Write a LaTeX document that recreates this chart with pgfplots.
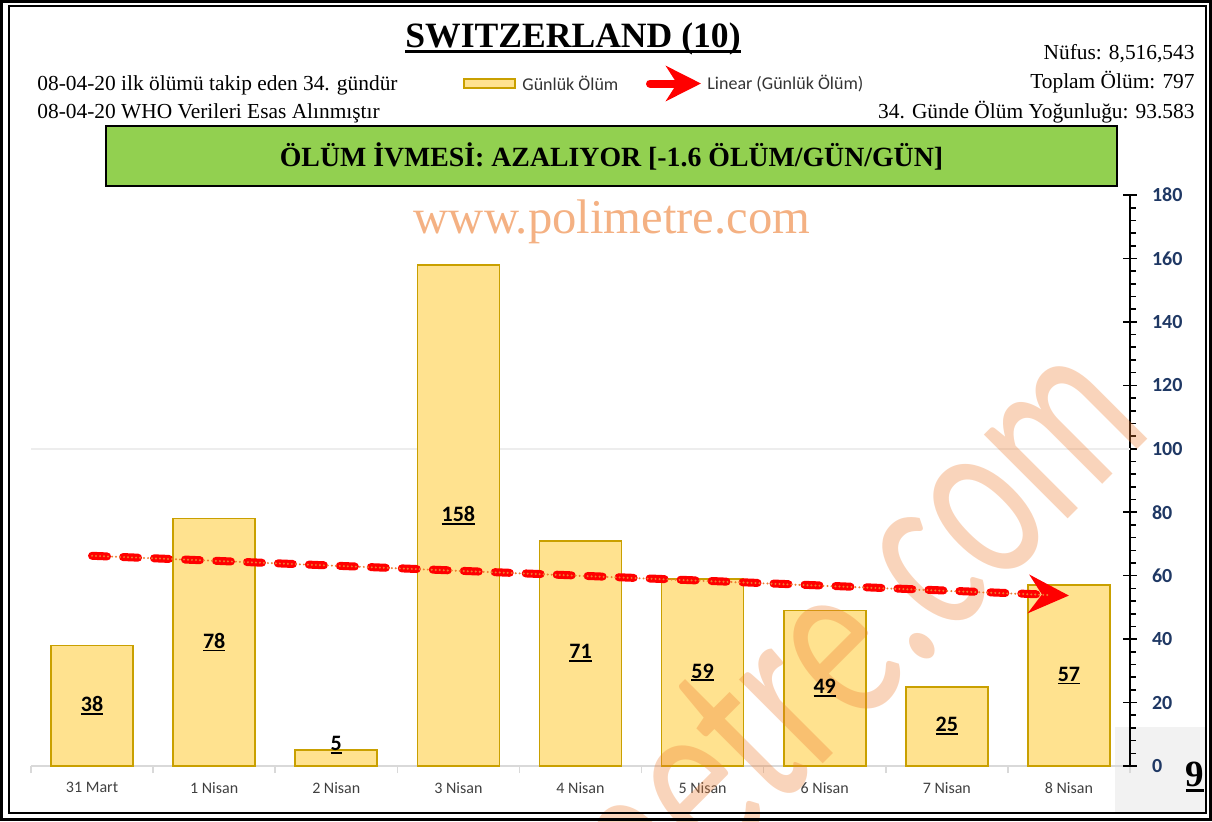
\documentclass[border=0pt]{standalone}
\usepackage{pgfplots}
\pgfplotsset{compat=1.18}
\usepackage{fontspec}
\setmainfont{Liberation Serif}
\newfontfamily\calib{Carlito}
\usetikzlibrary{arrows.meta}
\definecolor{barfill}{HTML}{FFE28F}
\definecolor{baredge}{HTML}{C9A000}
\definecolor{navy}{HTML}{1F3864}
\definecolor{wm}{HTML}{ED7D31}
\definecolor{wmtext}{HTML}{F4B183}
\definecolor{boxgreen}{HTML}{92D050}
\definecolor{lgray}{HTML}{F2F2F2}
\newcommand{\ulx}[3]{\setbox0\hbox{#3}\hbox{\rlap{\copy0}\rule[-#1]{\wd0}{#2}}}

\begin{document}
\begin{tikzpicture}
\path[use as bounding box] (0,0) rectangle (606pt,-410.5pt);
\clip (0,0) rectangle (606pt,-410.5pt);
\begin{scope}[x=0.5pt,y=-0.5pt]
\fill[lgray] (1115,727) rectangle (1206,813);
\end{scope}
\begin{axis}[
  at={(15.5pt,-383pt)}, anchor=south west,
  scale only axis, width=549.5pt, height=285.5pt,
  xmin=-0.5, xmax=8.5, ymin=0, ymax=180,
  clip=false,
  axis x line*=bottom, axis y line*=right,
  x axis line style={draw=black!15, line width=0.75pt, -},
  y axis line style={draw=black, line width=1pt, -},
  xtick={-0.5,0.5,...,8.5},
  x tick label as interval,
  xticklabels={31 Mart,1 Nisan,2 Nisan,3 Nisan,4 Nisan,5 Nisan,6 Nisan,7 Nisan,8 Nisan},
  xticklabel style={font=\calib\fontsize{8}{9.6}\selectfont, text=black!75, yshift=-1pt},
  ytick={0,20,...,180},
  minor y tick num=4,
  tick align=outside,
  major tick length=3.5pt, minor tick length=3pt,
  tick style={black, line width=0.8pt},
  xtick style={draw=black!15, line width=0.75pt},
  ytick style={draw=black, line width=0.8pt},
  extra y ticks={0,20,...,180},
  extra y tick labels={},
  extra y tick style={tick align=inside},
  yticklabel style={font=\calib\bfseries\fontsize{10}{12}\selectfont, text=navy, xshift=4pt},
  /pgf/number format/assume math mode=true,
]
\draw[black!7, line width=0.75pt] (axis cs:-0.5,100) -- (axis cs:8.5,100);
\addplot[ybar, bar width=41pt, fill=barfill, draw=baredge, line width=0.8pt]
  coordinates {(0,38) (1,78) (2,5) (3,158) (4,71) (5,59) (6,49) (7,25) (8,57)};
\node[rotate=45, anchor=base east, text=wm, opacity=0.33, inner sep=0pt,
      font=\calib\fontsize{85}{90}\selectfont] at (axis cs:8.712,105.6)
      {\scalebox{1}[1.46]{polimetre.com}};
\addplot[draw=none, mark=none,
  nodes near coords={\ulx{1.6pt}{0.9pt}{\pgfplotspointmeta}},
  point meta=explicit symbolic,
  nodes near coords style={anchor=center, font=\calib\bfseries\fontsize{11}{13}\selectfont, text=black}]
  coordinates {(0,19)[38] (1,39)[78] (2,6.6)[5] (3,79)[158] (4,35.5)[71] (5,29.5)[59] (6,24.5)[49] (7,12.5)[25] (8,28.5)[57]};
\addplot[draw=red, line width=4pt, line cap=round, dash pattern=on 7.5pt off 8pt,
  -{Stealth[length=20pt,width=19pt,inset=6.5pt]}]
  coordinates {(0,66.27) (8,53.73)};
\addplot[draw=wm, line width=1.1pt, line cap=round, dash pattern=on 0pt off 2pt]
  coordinates {(0,66.27) (7.85,53.85)};
\end{axis}
\begin{scope}[x=0.5pt,y=-0.5pt]
\draw[black, line width=1.5pt] (1.5,1.5) rectangle (1210.5,819.5);
\draw[black, line width=1pt] (9,6) rectangle (1206,813);
\node[anchor=base, text=wmtext, inner sep=0pt, font=\fontsize{24.3}{28}\selectfont] at (612,233) {www.polimetre.com};
\node[anchor=base, inner sep=0pt, font=\bfseries\fontsize{17.8}{20}\selectfont] at (573,47) {\ulx{3.1pt}{1.4pt}{SWITZERLAND (10)}};
\node[anchor=base west, inner sep=0pt, font=\fontsize{10.7}{12}\selectfont] at (37,90) {08-04-20 ilk ölümü takip eden 34. gündür};
\node[anchor=base west, inner sep=0pt, font=\fontsize{10.7}{12}\selectfont] at (37,118) {08-04-20 WHO Verileri Esas Alınmıştır};
\node[anchor=base east, inner sep=0pt, font=\fontsize{10.7}{12}\selectfont] at (1195,59) {Nüfus: 8,516,543};
\node[anchor=base east, inner sep=0pt, font=\fontsize{10.7}{12}\selectfont] at (1195,88) {Toplam Ölüm: 797};
\node[anchor=base east, inner sep=0pt, font=\fontsize{10.7}{12}\selectfont] at (1195,118) {34. Günde Ölüm Yoğunluğu: 93.583};
\draw[fill=boxgreen, line width=1pt] (106,126) rectangle (1117,186);
\node[anchor=base, inner sep=0pt, font=\bfseries\fontsize{13.9}{16}\selectfont] at (611.5,166) {ÖLÜM İVMESİ: AZALIYOR [-1.6 ÖLÜM/GÜN/GÜN]};
\draw[fill=barfill, draw=baredge, line width=0.8pt] (464,79) rectangle (515,88);
\node[anchor=west, inner sep=0pt, font=\calib\fontsize{9}{11}\selectfont, text=black!80] at (522,83.5) {Günlük Ölüm};
\draw[red, line width=4pt, line cap=round, -{Stealth[length=17.5pt,width=17.5pt,inset=5.5pt]}] (650,83.5) -- (701,83.5);
\node[anchor=west, inner sep=0pt, font=\calib\fontsize{9}{11}\selectfont, text=black!80] at (707,83.5) {Linear (Günlük Ölüm)};
\node[anchor=base, inner sep=0pt, font=\bfseries\fontsize{18.5}{20}\selectfont] at (1195,786) {\ulx{2.8pt}{1.1pt}{9}};
\end{scope}
\end{tikzpicture}
\end{document}
